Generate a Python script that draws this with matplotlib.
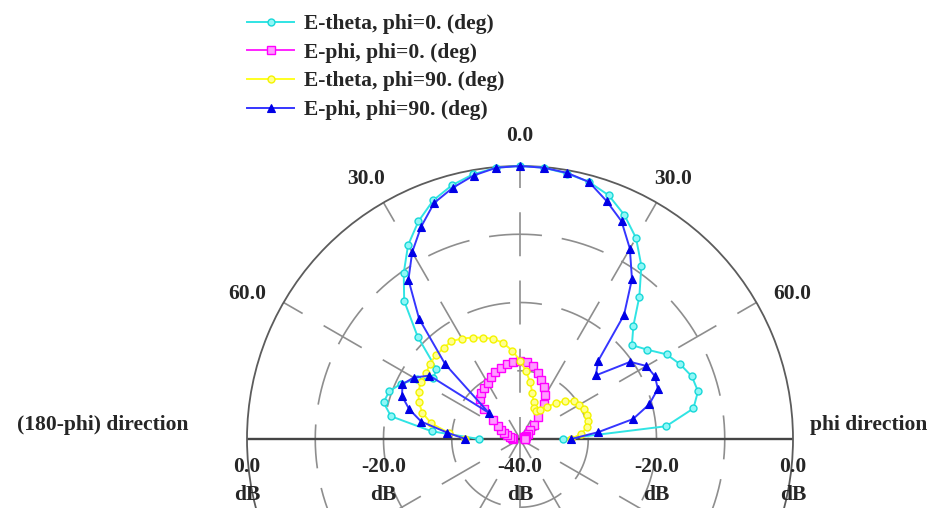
import numpy as np
import matplotlib
matplotlib.use("Agg")
import matplotlib.pyplot as plt

# ---------------------------------------------------------------------------
# Far-field pattern data (dB), theta sampled every 5 degrees over -90..90
# ---------------------------------------------------------------------------
theta_deg = np.arange(-90, 91, 5)

e_theta_phi0 = [-34.0, -27.0, -20.8, -19.3, -19.6, -20.8, -22.5, -24.5, -24.0,
                -18.8, -13.6, -10.3, -7.2, -4.8, -2.8, -1.5, -0.6, -0.1, 0.0,
                -0.1, -0.5, -1.0, -2.0, -3.8, -6.0, -9.0, -12.8, -16.5, -18.6,
                -17.2, -15.2, -14.1, -13.2, -13.0, -14.2, -18.5, -33.7]

e_phi_phi0 = [-39.0, -38.8, -38.5, -38.0, -37.5, -37.0, -36.3, -35.2, -33.2,
              -31.8, -31.2, -30.8, -30.5, -30.0, -29.5, -29.2, -28.9, -28.7, -28.6,
              -28.7, -29.2, -30.0, -30.8, -31.6, -32.6, -33.8, -35.8, -37.0, -38.0,
              -38.6, -39.0, -39.2, -39.3, -39.3, -39.3, -39.3, -39.3]

e_theta_phi90 = [-32.0, -29.5, -26.8, -25.2, -24.2, -23.6, -23.2, -23.2, -22.8,
                 -22.6, -22.6, -22.5, -23.0, -23.6, -24.2, -24.8, -25.7, -27.0, -28.5,
                 -30.0, -31.5, -33.0, -34.2, -35.0, -35.2, -34.8, -33.8, -32.6, -31.3,
                 -30.4, -30.0, -29.7, -29.6, -29.7, -30.0, -31.0, -32.5]

e_phi_phi90 = [-32.0, -29.3, -25.3, -23.2, -21.6, -21.0, -22.0, -23.8, -34.0,
               -24.5, -17.0, -11.5, -8.4, -5.7, -3.2, -1.9, -0.8, -0.1, 0.0,
               -0.1, -0.4, -1.0, -2.9, -4.8, -7.8, -11.4, -16.3, -23.8, -25.5,
               -20.3, -18.6, -18.2, -18.5, -20.4, -23.2, -28.5, -32.5]

series_labels = ["E-theta, phi=0. (deg)", "E-phi, phi=0. (deg)",
                 "E-theta, phi=90. (deg)", "E-phi, phi=90. (deg)"]

r_min, r_max = -40.0, 0.0
grid_circles = [-30.0, -20.0, -10.0]
spoke_angles = [0, 30, 60, 120, 150, 180, 210, 240, 300, 330]
angle_tick_values = [-60, -30, 0, 30, 60]
baseline_tick_values = [0.0, -20.0, -40.0, -20.0, 0.0]
baseline_tick_sides = [-90, -90, 0, 90, 90]

# ---------------------------------------------------------------------------
# Figure geometry (pixels)
# ---------------------------------------------------------------------------
DPI = 100
W, H = 930, 508
cx, cy, R = 520, 439, 273

plt.rcParams["font.family"] = ["Liberation Serif", "DejaVu Serif"]
TEXT_COLOR = "#262626"
FS = 15.5
FW = "bold"

fig = plt.figure(figsize=(W / DPI, H / DPI), dpi=DPI)
fig.patch.set_facecolor("white")
ax = fig.add_axes([(cx - R) / W, (H - cy - R) / H, 2 * R / W, 2 * R / H],
                  projection="polar")
ax.set_theta_zero_location("N")
ax.set_theta_direction(-1)
ax.set_ylim(r_min, r_max)
ax.set_xticks([])
ax.set_yticks([])
ax.grid(False)
ax.patch.set_alpha(0)
ax.spines["polar"].set_color("#5c5c5c")
ax.spines["polar"].set_linewidth(1.3)


def px_dashes(on_px, off_px, lw, offset_px=0.0):
    """Dash pattern given in pixels, converted to lw-scaled points."""
    k = 72.0 / DPI / lw
    return (offset_px * k, (on_px * k, off_px * k))


GRID_COLOR = "#8e8e8e"
GRID_LW = 1.2

# dashed constant-level circles
full_turn = np.linspace(0, 2 * np.pi, 1441)
for level in grid_circles:
    ax.plot(full_turn, np.full_like(full_turn, level), color=GRID_COLOR,
            lw=GRID_LW, linestyle=px_dashes(44, 20, GRID_LW, 22), zorder=1)

# dashed spokes through the centre
ring_px = R / 4.0
for a in spoke_angles:
    t = np.deg2rad(a)
    ax.plot([t, t], [r_min, r_max], color=GRID_COLOR, lw=GRID_LW,
            linestyle=px_dashes(44, ring_px - 44, GRID_LW, 22), zorder=1)

# solid horizon line (theta = +/-90)
for a in (-90, 90):
    t = np.deg2rad(a)
    ax.plot([t, t], [r_min, r_max], color="#454545", lw=1.7,
            solid_capstyle="butt", zorder=2)

# ---------------------------------------------------------------------------
# Pattern curves
# ---------------------------------------------------------------------------
th = np.deg2rad(theta_deg)
styles = [
    dict(color="#30E4E4", marker="o", ms=5, mfc="#8FF7F7", mec="#18D8D8", mew=1.0),
    dict(color="#FF22FF", marker="s", ms=6, mfc="#FF9CFF", mec="#FF00FF", mew=1.0),
    dict(color="#FFFF20", marker="o", ms=5, mfc="#FFFF90", mec="#F4F400", mew=1.0),
    dict(color="#3535FF", marker="^", ms=5.5, mfc="#0000E6", mec="#0000E6", mew=0.8),
]
handles = []
for vals, lab, st in zip([e_theta_phi0, e_phi_phi0, e_theta_phi90, e_phi_phi90],
                         series_labels, styles):
    ln, = ax.plot(th, vals, lw=1.4, label=lab, zorder=3, clip_on=False, **st)
    handles.append(ln)

# ---------------------------------------------------------------------------
# Labels
# ---------------------------------------------------------------------------
label_theta = {-60: -62.0, -30: -30.6, 0: 0.0, 30: 30.6, 60: 62.0}
label_r = {-60: 5.2, -30: 4.2, 0: 4.4, 30: 4.2, 60: 5.2}
for a in angle_tick_values:
    ax.text(np.deg2rad(label_theta[a]), label_r[a], f"{abs(a):.1f}",
            ha="center", va="center", fontsize=FS, fontweight=FW,
            color=TEXT_COLOR, clip_on=False)

for val, side in zip(baseline_tick_values, baseline_tick_sides):
    xy = (np.deg2rad(side), val)
    ax.annotate(f"{val:.1f}", xy=xy, xytext=(0, -28), textcoords="offset pixels",
                ha="center", va="center", fontsize=FS, fontweight=FW,
                color=TEXT_COLOR, annotation_clip=False)
    ax.annotate("dB", xy=xy, xytext=(0, -56), textcoords="offset pixels",
                ha="center", va="center", fontsize=FS, fontweight=FW,
                color=TEXT_COLOR, annotation_clip=False)

fig.text(17 / W, 1 - 425 / H, "(180-phi) direction", ha="left", va="center",
         fontsize=FS, fontweight=FW, color=TEXT_COLOR)
fig.text(810 / W, 1 - 425 / H, "phi direction", ha="left", va="center",
         fontsize=FS, fontweight=FW, color=TEXT_COLOR)

fig.legend(handles=handles, labels=series_labels, loc="upper left",
           bbox_to_anchor=(247 / W, 1 - 14 / H), frameon=False,
           prop=dict(size=FS, weight=FW),
           handlelength=2.2, handletextpad=0.45, labelspacing=0.4,
           borderpad=0.0, borderaxespad=0.0, labelcolor=TEXT_COLOR)

fig.savefig("out.png", dpi=DPI, facecolor="white")
